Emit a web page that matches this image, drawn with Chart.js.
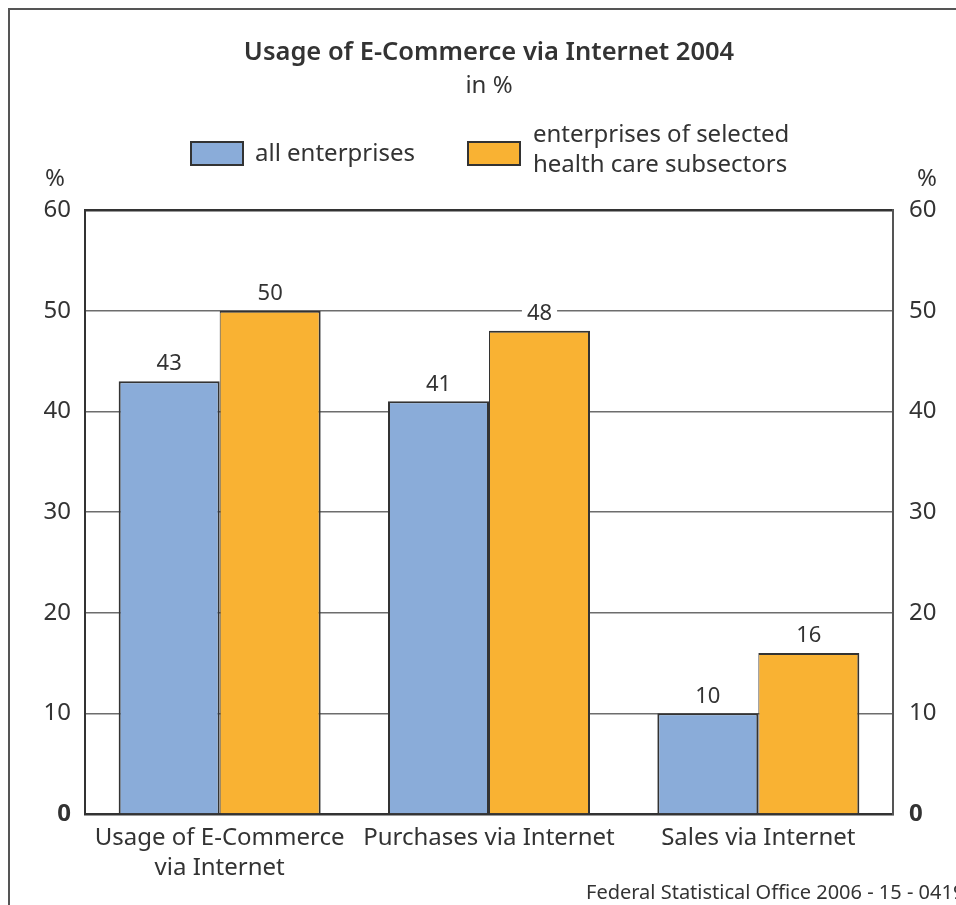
<!DOCTYPE html>
<html>
<head>
<meta charset="utf-8">
<script src="https://cdn.jsdelivr.net/npm/chart.js@4.4.1/dist/chart.umd.min.js"></script>
<style>
  html, body { margin: 0; padding: 0; background: #fff; }
  canvas { display: block; }
</style>
</head>
<body>
<canvas id="ecomChart" width="956" height="905"></canvas>
<script>
const categories = [['Usage of E-Commerce', 'via Internet'], 'Purchases via Internet', 'Sales via Internet'];
const allEnterprises = [43, 41, 10];
const healthCare = [50, 48, 16];
const seriesNames = ['all enterprises', ['enterprises of selected', 'health care subsectors']];
const yMin = 0, yMax = 60, yStep = 10;

const FONT = "'Noto Sans', sans-serif";
const TEXT = '#333';
const BLUE = '#8aacd9';
const ORANGE = '#f9b233';

// frame, headings, legend, value labels and source line
const decor = {
  id: 'decor',
  afterDatasetsDraw(chart) {
    const ctx = chart.ctx;
    ctx.save();
    // value labels on white patches
    ctx.font = '22px ' + FONT;
    ctx.textAlign = 'center';
    ctx.textBaseline = 'middle';
    chart.data.datasets.forEach((ds, i) => {
      chart.getDatasetMeta(i).data.forEach((bar, j) => {
        const txt = String(ds.data[j]);
        const y = bar.y - 17;
        const w = ctx.measureText(txt).width + 10;
        ctx.fillStyle = '#fff';
        ctx.fillRect(bar.x - w / 2, y - 11, w, 22);
        ctx.fillStyle = TEXT;
        ctx.fillText(txt, bar.x, y);
      });
    });
    ctx.restore();
  },
  afterDraw(chart) {
    const ctx = chart.ctx;
    ctx.save();
    // outer box
    ctx.strokeStyle = '#555';
    ctx.lineWidth = 2;
    ctx.beginPath();
    ctx.moveTo(9, 905);
    ctx.lineTo(9, 9);
    ctx.lineTo(956, 9);
    ctx.stroke();

    ctx.fillStyle = TEXT;
    ctx.textAlign = 'center';
    ctx.textBaseline = 'middle';
    ctx.font = '600 25.5px ' + FONT;
    ctx.fillText('Usage of E-Commerce via Internet 2004', 489, 53);
    ctx.font = '24px ' + FONT;
    ctx.fillText('in %', 489, 86);

    // unit markers above both axes
    ctx.fillText('%', 55, 179);
    ctx.fillText('%', 927, 179);

    // legend
    const boxes = [[191, BLUE], [468, ORANGE]];
    boxes.forEach(([x, c]) => {
      ctx.fillStyle = c;
      ctx.fillRect(x, 142, 52, 23);
      ctx.strokeStyle = TEXT;
      ctx.lineWidth = 2;
      ctx.strokeRect(x, 142, 52, 23);
    });
    ctx.fillStyle = TEXT;
    ctx.textAlign = 'left';
    ctx.fillText(seriesNames[0], 255, 154);
    ctx.fillText(seriesNames[1][0], 533, 135);
    ctx.fillText(seriesNames[1][1], 533, 165);

    // source
    ctx.font = '20px ' + FONT;
    ctx.fillText('Federal Statistical Office 2006 - 15 - 0419', 586, 893);
    ctx.restore();
  }
};

const tickFont = (c) => ({ family: FONT, size: 24, weight: c.tick && c.tick.value === 0 ? 'bold' : 'normal' });

new Chart(document.getElementById('ecomChart'), {
  type: 'bar',
  data: {
    labels: categories,
    datasets: [{
      label: 'all enterprises',
      data: allEnterprises,
      backgroundColor: BLUE,
      borderColor: TEXT,
      borderWidth: { top: 2, left: 2, right: 2, bottom: 0 },
      yAxisID: 'y'
    }, {
      label: 'enterprises of selected health care subsectors',
      data: healthCare,
      backgroundColor: ORANGE,
      borderColor: TEXT,
      borderWidth: { top: 2, left: 1, right: 2, bottom: 0 },
      yAxisID: 'y'
    }]
  },
  options: {
    responsive: false,
    animation: false,
    layout: { padding: { top: 210, left: 0, right: 0, bottom: 0 } },
    categoryPercentage: 0.75,
    barPercentage: 1,
    plugins: {
      legend: { display: false },
      tooltip: { enabled: false }
    },
    scales: {
      x: {
        grid: { display: false },
        border: { color: TEXT, width: 2.5 },
        ticks: { color: TEXT, font: { family: FONT, size: 24, lineHeight: 1.25 }, padding: 1, maxRotation: 0, autoSkip: false },
        afterFit(s) { s.height = 91; }
      },
      y: {
        min: yMin, max: yMax,
        border: { color: TEXT, width: 2 },
        grid: {
          drawTicks: false,
          color: (c) => c.tick.value === yMax ? TEXT : '#6d6d6d',
          lineWidth: (c) => c.tick.value === yMax ? 2.5 : 1.5
        },
        ticks: { stepSize: yStep, color: TEXT, font: tickFont, padding: 14 },
        afterFit(s) { s.width = 85; }
      },
      y2: {
        position: 'right',
        min: yMin, max: yMax,
        border: { color: '#555', width: 2 },
        grid: { display: false, drawTicks: false },
        ticks: { stepSize: yStep, color: TEXT, font: tickFont, padding: 16 },
        afterFit(s) { s.width = 63; }
      }
    }
  },
  plugins: [decor]
});
</script>
</body>
</html>
